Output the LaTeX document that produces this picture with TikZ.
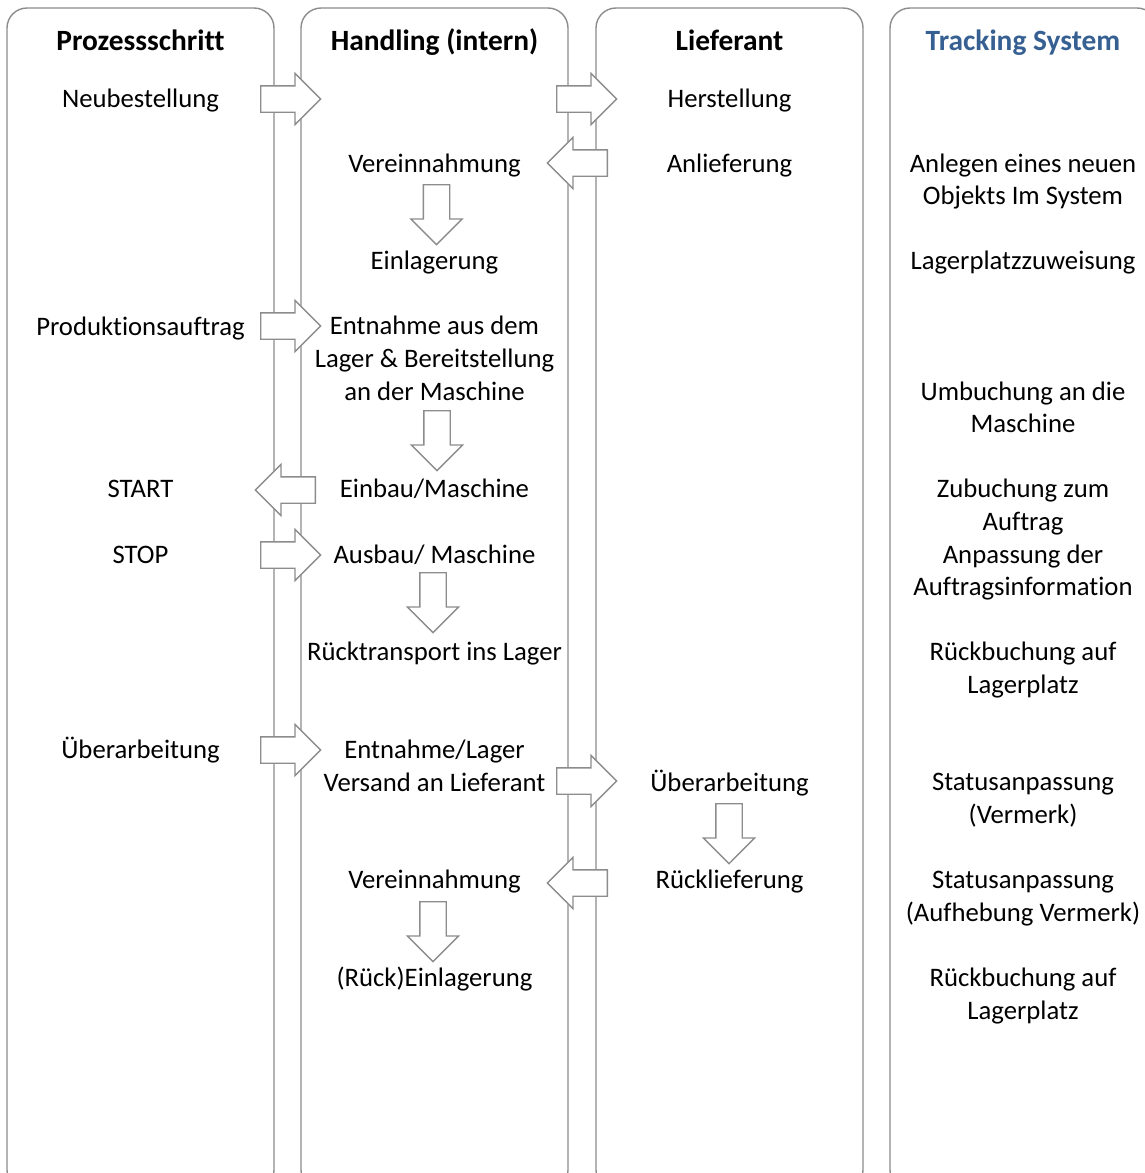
\documentclass[tikz,border=0pt]{standalone}
\usepackage{fontspec}
\setmainfont{Carlito}[Ligatures=NoCommon]
\usetikzlibrary{shapes.arrows}
\definecolor{lanegray}{RGB}{140,140,140}
\definecolor{titleblue}{RGB}{54,96,146}
\begin{document}
\begin{tikzpicture}[x=1pt,y=-1pt,
  lane/.style={draw=lanegray, line width=1.4pt, rounded corners=20pt},
  blockarrow/.style={single arrow, draw=lanegray, fill=white, line width=1.3pt,
    inner sep=12.5pt, minimum height=60pt,
    single arrow head extend=12.5pt, single arrow head indent=0pt, anchor=tail},
  rightarrow/.style={blockarrow},
  leftarrow/.style={blockarrow, shape border rotate=180},
  downarrow/.style={blockarrow, shape border rotate=270},
  txt/.style={font=\fontsize{26.7}{32.57}\selectfont, align=center, inner sep=0pt, anchor=base},
  ttl/.style={txt, font=\bfseries\fontsize{29.4}{32.57}\selectfont}]
\useasboundingbox (0,0) rectangle (1145,1173);
\clip (0,0) rectangle (1145,1173);
% lanes
\draw[lane] (7,8) rectangle (274,1190);
\draw[lane] (301,8) rectangle (568,1190);
\draw[lane] (596,8) rectangle (863,1190);
\draw[lane] (890,8) rectangle (1157,1190);
% arrows (positioned by their tail)
\node[rightarrow] (a1) at (260,99) {};
\node[rightarrow] (a2) at (556,99) {};
\node[leftarrow] (a3) at (608,163) {};
\node[downarrow] (a4) at (436.5,184) {};
\node[rightarrow] (a5) at (260,326) {};
\node[downarrow] (a6) at (437,410) {};
\node[leftarrow] (a7) at (316,490) {};
\node[rightarrow] (a8) at (260,555) {};
\node[downarrow] (a9) at (433,572) {};
\node[rightarrow] (a10) at (260,750) {};
\node[rightarrow] (a11) at (556,781) {};
\node[downarrow] (a12) at (729,803) {};
\node[leftarrow] (a13) at (608,883) {};
\node[downarrow] (a14) at (433,901) {};
% titles
\node[ttl] (t1) at (140.5,50.5) {Prozessschritt};
\node[ttl] (t2) at (434.5,50.5) {Handling (intern)};
\node[ttl] (t3) at (729.5,50.5) {Lieferant};
\node[ttl, text=titleblue] (t4) at (1023,50.5) {Tracking System};
% lane 1
\node[txt] (p1) at (140.5,107) {Neubestellung};
\node[txt] (p2) at (140.5,335) {Produktionsauftrag};
\node[txt] (p3) at (140.5,497.8) {START};
\node[txt] (p4) at (140.5,563) {STOP};
\node[txt] (p5) at (140.5,758.4) {Überarbeitung};
% lane 2 (multi-line nodes anchored at the baseline of their last line)
\node[txt] (h1) at (434.5,172.1) {Vereinnahmung};
\node[txt] (h2) at (434.5,269.9) {Einlagerung};
\node[txt] (h3) at (434.5,400.1) {Entnahme aus dem\\Lager \& Bereitstellung\\an der Maschine};
\node[txt] (h4) at (434.5,497.8) {Einbau/Maschine};
\node[txt] (h5) at (434.5,563) {Ausbau/ Maschine};
\node[txt] (h6) at (434.5,660.7) {Rücktransport ins Lager};
\node[txt] (h7) at (434.5,791) {Entnahme/Lager\\Versand an Lieferant};
\node[txt] (h8) at (434.5,888.7) {Vereinnahmung};
\node[txt] (h9) at (434.5,986.4) {(Rück)Einlagerung};
% lane 3
\node[txt] (l1) at (729.5,107) {Herstellung};
\node[txt] (l2) at (729.5,172.1) {Anlieferung};
\node[txt] (l3) at (729.5,791) {Überarbeitung};
\node[txt] (l4) at (729.5,888.7) {Rücklieferung};
% lane 4
\node[txt] (s1) at (1023,204.7) {Anlegen eines neuen\\Objekts Im System};
\node[txt] (s2) at (1023,269.9) {Lagerplatzzuweisung};
\node[txt] (s3) at (1023,432.7) {Umbuchung an die\\Maschine};
\node[txt] (s4) at (1023,530.4) {Zubuchung zum\\Auftrag};
\node[txt] (s5) at (1023,595.6) {Anpassung der\\Auftragsinformation};
\node[txt] (s6) at (1023,693.3) {Rückbuchung auf\\Lagerplatz};
\node[txt] (s7) at (1023,823.5) {Statusanpassung\\(Vermerk)};
\node[txt] (s8) at (1023,921.3) {Statusanpassung\\(Aufhebung Vermerk)};
\node[txt] (s9) at (1023,1019) {Rückbuchung auf\\Lagerplatz};
\end{tikzpicture}
\end{document}
